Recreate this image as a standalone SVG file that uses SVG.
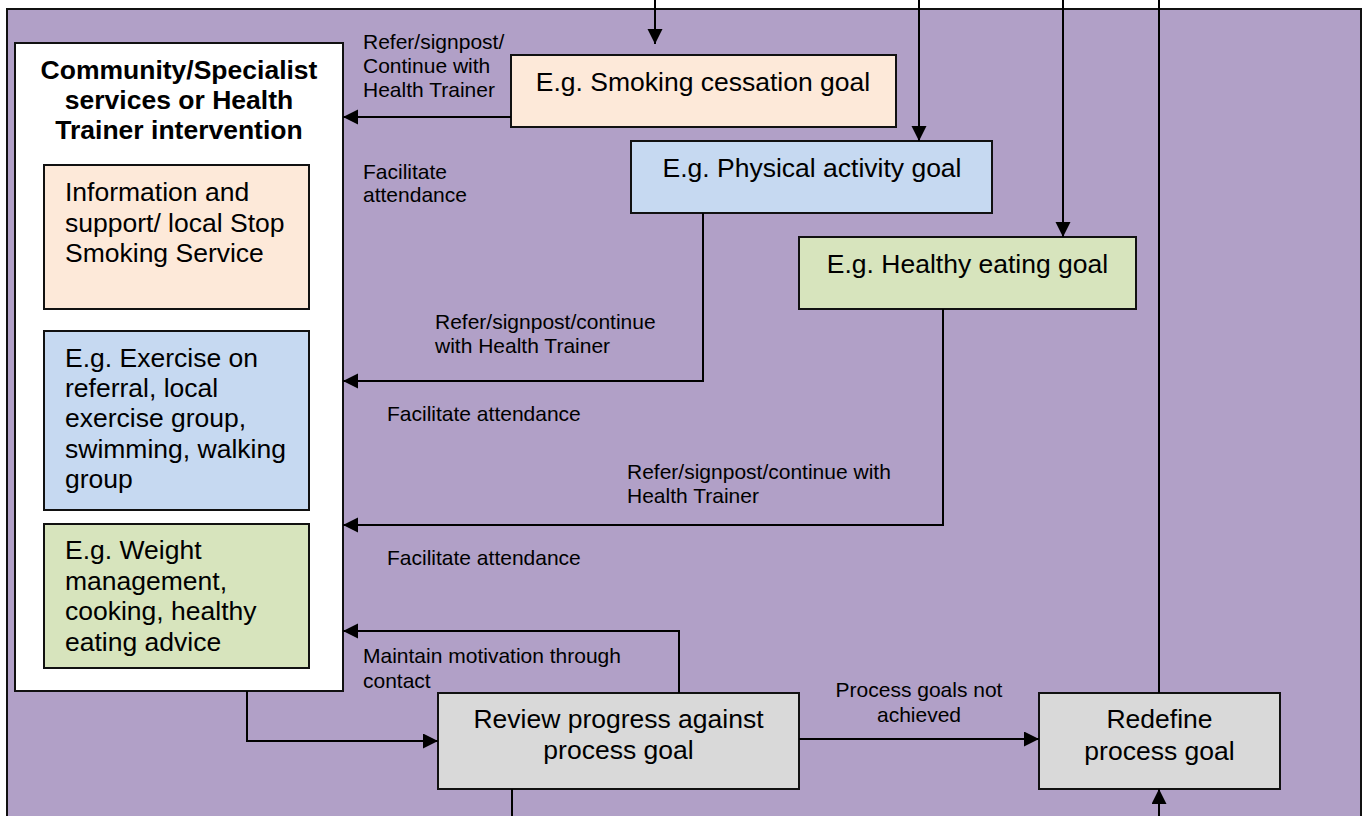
<svg xmlns="http://www.w3.org/2000/svg" width="1367" height="816" viewBox="0 0 1367 816">
<defs>
<marker id="ah" markerUnits="userSpaceOnUse" markerWidth="16" markerHeight="16" refX="15" refY="7.5" orient="auto">
<path d="M0,0 L15,7.5 L0,15 z" fill="#000"/>
</marker>
<style>
.box{stroke:#111;stroke-width:2}
.t{font-family:"Liberation Sans",Arial,sans-serif;font-size:26.5px;fill:#000}
.b{font-family:"Liberation Sans",Arial,sans-serif;font-size:26.5px;font-weight:bold;fill:#000}
.l{font-family:"Liberation Sans",Arial,sans-serif;font-size:21px;fill:#000}
.c{text-anchor:middle}
.ln{fill:none;stroke:#000;stroke-width:2}
.arr{marker-end:url(#ah)}
</style>
</defs>
<rect x="0" y="0" width="1367" height="816" fill="#fff"/>
<rect id="background" x="7" y="9" width="1354" height="820" fill="#B1A0C7" stroke="#111" stroke-width="2"/>

<g id="services">
<rect class="box" x="15" y="43" width="328" height="648" fill="#fff"/>
<text class="b c" x="179" y="79">Community/Specialist</text>
<text class="b c" x="179" y="109">services or Health</text>
<text class="b c" x="179" y="139">Trainer intervention</text>
</g>
<g id="smoking-service">
<rect class="box" x="44" y="165" width="265" height="144" fill="#FDE9D9"/>
<text class="t" x="65" y="201">Information and</text>
<text class="t" x="65" y="232">support/ local Stop</text>
<text class="t" x="65" y="262">Smoking Service</text>
</g>
<g id="exercise-service">
<rect class="box" x="44" y="331" width="265" height="179" fill="#C6D9F1"/>
<text class="t" x="65" y="367">E.g. Exercise on</text>
<text class="t" x="65" y="397">referral, local</text>
<text class="t" x="65" y="427">exercise group,</text>
<text class="t" x="65" y="458">swimming, walking</text>
<text class="t" x="65" y="488">group</text>
</g>
<g id="eating-service">
<rect class="box" x="44" y="524" width="265" height="144" fill="#D7E4BD"/>
<text class="t" x="65" y="559">E.g. Weight</text>
<text class="t" x="65" y="590">management,</text>
<text class="t" x="65" y="620">cooking, healthy</text>
<text class="t" x="65" y="651">eating advice</text>
</g>
<g id="smoking-goal">
<rect class="box" x="511" y="55" width="385" height="72" fill="#FDE9D9"/>
<text class="t c" x="703" y="91">E.g. Smoking cessation goal</text>
</g>
<g id="activity-goal">
<rect class="box" x="631" y="141" width="361" height="72" fill="#C6D9F1"/>
<text class="t c" x="812" y="177">E.g. Physical activity goal</text>
</g>
<g id="eating-goal">
<rect class="box" x="799" y="237" width="337" height="72" fill="#D7E4BD"/>
<text class="t c" x="967.5" y="273">E.g. Healthy eating goal</text>
</g>
<g id="review">
<rect class="box" x="438" y="693" width="361" height="96" fill="#D9D9D9"/>
<text class="t c" x="618.5" y="728">Review progress against</text>
<text class="t c" x="618.5" y="759">process goal</text>
</g>
<g id="redefine">
<rect class="box" x="1039" y="693" width="241" height="96" fill="#D9D9D9"/>
<text class="t c" x="1159.5" y="728">Redefine</text>
<text class="t c" x="1159.5" y="760">process goal</text>
</g>

<g id="connectors">
<path class="ln arr" d="M655,0 V44"/>
<path class="ln arr" d="M919,0 V141"/>
<path class="ln arr" d="M1063,0 V237"/>
<path class="ln" d="M1159,693 V0"/>
<path class="ln arr" d="M1159,816 V789"/>
<path class="ln" d="M512,789 V816"/>
<path class="ln arr" d="M511,117 H343"/>
<path class="ln arr" d="M703,213 V381 H343"/>
<path class="ln arr" d="M943,309 V525 H343"/>
<path class="ln arr" d="M679,693 V631 H343"/>
<path class="ln arr" d="M247,691 V741 H438"/>
<path class="ln arr" d="M799,739 H1039"/>
</g>

<g id="labels">
<text class="l" x="363" y="49">Refer/signpost/</text>
<text class="l" x="363" y="73">Continue with</text>
<text class="l" x="363" y="97">Health Trainer</text>
<text class="l" x="363" y="179">Facilitate</text>
<text class="l" x="363" y="202">attendance</text>
<text class="l" x="435" y="329">Refer/signpost/continue</text>
<text class="l" x="435" y="353">with Health Trainer</text>
<text class="l" x="387" y="421">Facilitate attendance</text>
<text class="l" x="627" y="479">Refer/signpost/continue with</text>
<text class="l" x="627" y="503">Health Trainer</text>
<text class="l" x="387" y="565">Facilitate attendance</text>
<text class="l" x="363" y="663">Maintain motivation through</text>
<text class="l" x="363" y="688">contact</text>
<text class="l c" x="919" y="697">Process goals not</text>
<text class="l c" x="919" y="722">achieved</text>
</g>
</svg>
